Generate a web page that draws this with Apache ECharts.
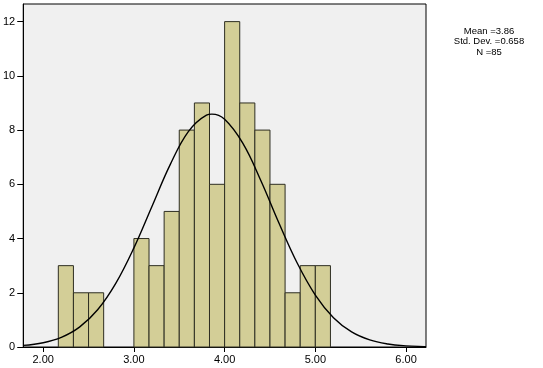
<!DOCTYPE html>
<html>
<head>
<meta charset="utf-8">
<script src="https://cdn.jsdelivr.net/npm/echarts@6/dist/echarts.min.js"></script>
<style>
html,body{margin:0;padding:0;background:#fff;}
#chart{width:543px;height:368px;}
</style>
</head>
<body>
<div id="chart"></div>
<script>
// Histogram bins (lower edge, upper edge) and counts
var binStart = [2.1667,2.3333,2.5,2.6667,2.8333,3.0,3.1667,3.3333,3.5,3.6667,3.8333,4.0,4.1667,4.3333,4.5,4.6667,4.8333,5.0];
var binWidth = 0.16667;
var counts   = [3,2,2,0,0,4,3,5,8,9,6,12,9,8,6,2,3,3];

// Normal curve points
var curveX = [1.78,2.0,2.2,2.4,2.6,2.8,3.0,3.2,3.4,3.6,3.8,3.86,4.0,4.2,4.4,4.6,4.8,5.0,5.2,5.4,5.6,5.8,6.0,6.2,6.22];
var curveY = [0.058,0.158,0.356,0.733,1.373,2.347,3.656,5.194,6.728,7.945,8.554,8.59,8.398,7.517,6.134,4.564,3.096,1.915,1.080,0.555,0.260,0.111,0.043,0.015,0.014];

var xTicks = [2,3,4,5,6];
var yTicks = [0,2,4,6,8,10,12];
var statsLines = ['Mean =3.86','Std. Dev. =0.658','N =85'];

var chart = echarts.init(document.getElementById('chart'), null, {renderer:'canvas'});

var barData = [];
for (var i = 0; i < counts.length; i++) {
  if (counts[i] > 0) barData.push([binStart[i], binStart[i] + binWidth, counts[i]]);
}
var lineData = curveX.map(function(x, i){ return [x, curveY[i]]; });

var font = 'Arial, "Liberation Sans", sans-serif';

chart.setOption({
  animation: false,
  backgroundColor: '#ffffff',
  grid: {left: 21, top: 4, right: 117, bottom: 21, show: true, backgroundColor: '#f0f0f0', borderColor: '#000', borderWidth: 1},
  xAxis: {
    type: 'value', min: 1.78, max: 6.22, interval: 1,
    axisLine: {show: true, lineStyle: {color: '#000', width: 1}},
    axisTick: {show: true, length: 5, lineStyle: {color: '#000'}, customValues: xTicks},
    axisLabel: {color: '#000', fontSize: 11, fontFamily: font, margin: 7, customValues: xTicks,
      formatter: function(v){ return v.toFixed(2); }},
    splitLine: {show: false}
  },
  yAxis: {
    type: 'value', min: 0, max: 12.65, interval: 2,
    axisLine: {show: true, lineStyle: {color: '#000', width: 1}},
    axisTick: {show: true, length: 6, lineStyle: {color: '#000'}, customValues: yTicks},
    axisLabel: {color: '#000', fontSize: 11, fontFamily: font, margin: 8, customValues: yTicks},
    splitLine: {show: false}
  },
  series: [
    {
      type: 'custom',
      data: barData,
      encode: {x: [0, 1], y: 2},
      renderItem: function(params, api) {
        var p0 = api.coord([api.value(0), 0]);
        var p1 = api.coord([api.value(1), api.value(2)]);
        return {
          type: 'rect',
          shape: {x: p0[0], y: p1[1], width: p1[0] - p0[0], height: p0[1] - p1[1]},
          style: {fill: '#d3ce97', stroke: '#2e2e22', lineWidth: 1}
        };
      },
      z: 2
    },
    {
      type: 'line',
      data: lineData,
      smooth: 0.4,
      showSymbol: false,
      lineStyle: {color: '#000', width: 1.4},
      z: 3
    }
  ],
  graphic: statsLines.map(function(t, i){
    return {
      type: 'text', x: 489, y: 31 + i * 10.5,
      style: {text: t, fill: '#000', font: '9.5px ' + font, textAlign: 'center', textVerticalAlign: 'middle'}
    };
  })
});
</script>
</body>
</html>
